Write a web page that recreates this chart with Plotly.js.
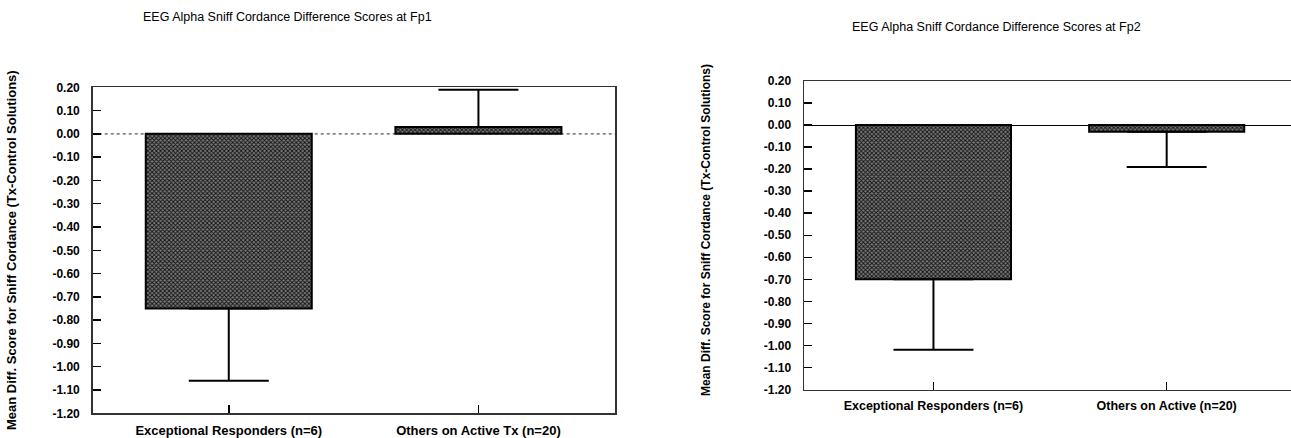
<!DOCTYPE html>
<html>
<head>
<meta charset="utf-8">
<script src="https://cdn.plot.ly/plotly-3.0.1.min.js"></script>
<style>html,body{margin:0;padding:0;background:#fff;}#chart{width:1291px;height:438px;}</style>
</head>
<body>
<div id="chart"></div>
<script>
// ---- data ----
const categoriesFp1 = ['Exceptional Responders (n=6)', 'Others on Active Tx (n=20)'];
const meansFp1 = [-0.75, 0.03];
const errPlusFp1 = [0, 0.16];
const errMinusFp1 = [0.31, 0];

const categoriesFp2 = ['Exceptional Responders (n=6)', 'Others on Active (n=20)'];
const meansFp2 = [-0.70, -0.03];
const errPlusFp2 = [0, 0];
const errMinusFp2 = [0.32, 0.16];

const tickValues = [0.2, 0.1, 0.0, -0.1, -0.2, -0.3, -0.4, -0.5, -0.6, -0.7, -0.8, -0.9, -1.0, -1.1, -1.2];
const tickLabels = ['0.20', '0.10', '0.00', '-0.10', '-0.20', '-0.30', '-0.40', '-0.50', '-0.60', '-0.70', '-0.80', '-0.90', '-1.00', '-1.10', '-1.20'];

const titleFp1 = 'EEG Alpha Sniff Cordance Difference Scores at Fp1';
const titleFp2 = 'EEG Alpha Sniff Cordance Difference Scores at Fp2';
const yTitle = 'Mean Diff. Score for Sniff Cordance (Tx-Control Solutions)';

// ---- styling ----
const FONT = 'Arial, "Liberation Sans", Helvetica, sans-serif';
const pattern = {shape: 'x', size: 3, solidity: 0.5, fgcolor: '#111', bgcolor: '#7a7a7a', fillmode: 'replace'};

function barTrace(cats, vals, plus, minus, xa, ya) {
  return {
    type: 'bar', x: cats.map((c, i) => i), y: vals, xaxis: xa, yaxis: ya,
    width: 0.665,
    marker: {color: '#555', pattern: pattern, line: {color: '#000', width: 2}},
    error_y: {type: 'data', symmetric: false, array: plus, arrayminus: minus,
              color: '#000', thickness: 2, width: 40},
    hoverinfo: 'skip', showlegend: false
  };
}

const traces = [
  barTrace(categoriesFp1, meansFp1, errPlusFp1, errMinusFp1, 'x', 'y'),
  barTrace(categoriesFp2, meansFp2, errPlusFp2, errMinusFp2, 'x2', 'y2')
];

function yAxis(domain, anchor, mirror, showZero) {
  return {
    domain: domain, anchor: anchor, range: [-1.2, 0.2],
    tickmode: 'array', tickvals: tickValues, ticktext: tickLabels,
    ticks: 'inside', ticklen: 8, tickwidth: 1.5, tickcolor: '#000',
    ticklabelstandoff: 9,
    tickfont: {family: FONT, size: 12, color: '#000', weight: 'bold'},
    showline: true, linecolor: '#333', linewidth: 1.5, mirror: mirror,
    showgrid: false, zeroline: showZero, zerolinecolor: '#000', zerolinewidth: 1,
    fixedrange: true, layer: 'below traces'
  };
}
function xAxis(domain, anchor, cats, range, fsize, standoff) {
  return {
    domain: domain, anchor: anchor, range: range,
    tickmode: 'array', tickvals: cats.map((c, i) => i), ticktext: cats,
    ticks: 'inside', ticklen: 8, tickwidth: 1.5, tickcolor: '#000',
    ticklabelstandoff: standoff,
    tickfont: {family: FONT, size: fsize, color: '#000', weight: 'bold'},
    showline: true, linecolor: '#333', linewidth: 1.5, mirror: true,
    showgrid: false, zeroline: false, fixedrange: true
  };
}

const W = 1291, H = 438;
const layout = {
  width: W, height: H,
  margin: {l: 0, r: 0, t: 0, b: 0},
  paper_bgcolor: '#fff', plot_bgcolor: '#fff',
  bargap: 0,
  xaxis: xAxis([92.7 / W, 615 / W], 'y', categoriesFp1, [-0.545, 1.547], 13, 5),
  yaxis: yAxis([1 - 413.3 / H, 1 - 87.3 / H], 'x', true, false),
  xaxis2: xAxis([804 / W, 1], 'y2', categoriesFp2, [-0.555, 1.533], 12.5, 4),
  yaxis2: yAxis([1 - 389.5 / H, 1 - 81 / H], 'x2', false, true),
  shapes: [
    {type: 'line', xref: 'x domain', yref: 'y', x0: 0, x1: 1, y0: 0, y1: 0,
     layer: 'below', line: {color: '#555', width: 1.2, dash: 'dot'}}
  ],
  annotations: [
    {text: titleFp1, xref: 'paper', yref: 'paper', x: 287 / W, y: 1 - 17 / H,
     xanchor: 'center', yanchor: 'middle', showarrow: false,
     font: {family: FONT, size: 12.5, color: '#000'}},
    {text: titleFp2, xref: 'paper', yref: 'paper', x: 996 / W, y: 1 - 27 / H,
     xanchor: 'center', yanchor: 'middle', showarrow: false,
     font: {family: FONT, size: 12.5, color: '#000'}},
    {text: yTitle, xref: 'paper', yref: 'paper', x: 11 / W, y: 1 - 250 / H,
     xanchor: 'center', yanchor: 'middle', textangle: -90, showarrow: false,
     font: {family: FONT, size: 13, color: '#000', weight: 'bold'}},
    {text: yTitle, xref: 'paper', yref: 'paper', x: 706 / W, y: 1 - 230 / H,
     xanchor: 'center', yanchor: 'middle', textangle: -90, showarrow: false,
     font: {family: FONT, size: 12, color: '#000', weight: 'bold'}}
  ]
};

Plotly.newPlot('chart', traces, layout, {staticPlot: true, displayModeBar: false});
</script>
</body>
</html>
